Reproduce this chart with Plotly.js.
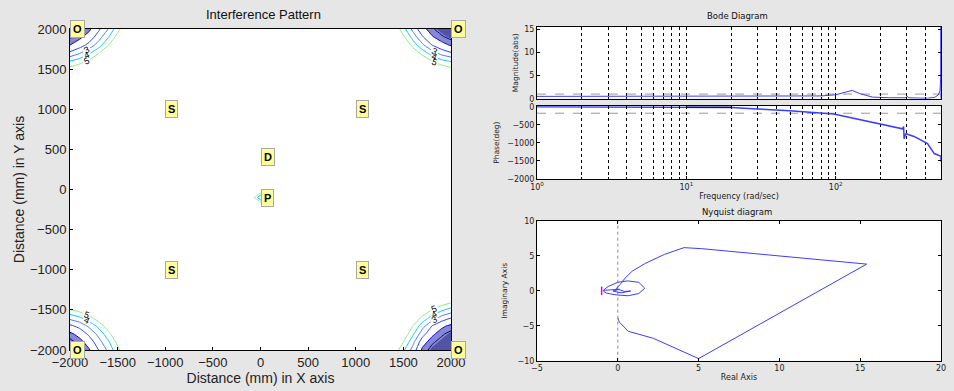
<!DOCTYPE html>
<html>
<head>
<meta charset="utf-8">
<script src="https://cdn.plot.ly/plotly-3.0.1.min.js"></script>
<style>html,body{margin:0;padding:0;background:#e6e6e6;}#chart{width:954px;height:391px;}</style>
</head>
<body>
<div id="chart"></div>
<script>
// ---------- Interference pattern (left) ----------
// grid offsets (mm) from each corner
const cornerOffsets = [0, 100, 200, 300, 400, 500, 600];
// z tables: rows = offset away from corner vertically, cols = offset away horizontally
const cornerTL = [
  [0.0,0.3,0.8,1.8,3.0,4.6,6.2],
  [0.4,0.8,1.4,2.5,3.9,5.4,7.0],
  [1.0,1.5,2.3,3.5,4.9,6.5,8.0],
  [2.2,2.9,3.8,4.9,6.3,7.8,9.2],
  [4.0,4.5,5.2,6.3,7.7,9.0,10],
  [5.4,5.9,6.6,7.7,9.0,10,10],
  [7.0,7.4,8.1,9.2,10,10,10]];
const cornerTR = [
  [0.0,0.2,0.6,1.3,2.7,4.4,6.0],
  [0.3,0.6,1.1,2.1,3.6,5.2,6.8],
  [0.9,1.3,2.0,3.2,4.6,6.2,7.8],
  [2.1,2.6,3.5,4.6,6.0,7.5,9.0],
  [3.9,4.3,5.0,6.1,7.5,8.8,10],
  [5.3,5.7,6.4,7.5,8.8,10,10],
  [6.9,7.3,8.0,9.0,10,10,10]];
const cornerBL = [
  [0.0,0.3,0.9,2.0,3.2,4.7,6.2],
  [0.3,0.7,1.4,2.6,3.8,5.3,6.9],
  [0.8,1.3,2.2,3.3,4.6,6.1,7.6],
  [1.8,2.3,3.2,4.3,5.6,7.1,8.6],
  [3.3,3.8,4.6,5.6,6.9,8.3,9.6],
  [4.9,5.4,6.1,7.1,8.3,9.6,10],
  [6.6,7.0,7.7,8.6,9.7,10,10]];
const cornerBR = [
  [0.0,0.1,0.3,0.8,2.6,4.2,5.8],
  [0.1,0.3,0.6,1.4,3.3,5.0,6.6],
  [0.3,0.6,1.2,2.4,4.2,5.8,7.4],
  [0.8,1.2,2.0,3.4,5.0,6.6,8.2],
  [2.0,2.6,3.6,4.7,6.0,7.6,9.0],
  [3.6,4.2,5.0,6.0,7.2,8.6,10],
  [5.2,5.7,6.4,7.2,8.4,9.6,10]];
// dip around the probe point P
const probeX = [-200,-100,0,100,200];
const probeY = [-300,-200,-100,0,100];
const probeZ = [
  [10,10,10,10,10],
  [10,8,6.5,8,10],
  [10,6,3,6,10],
  [10,8,6.5,8,10],
  [10,10,10,10,10]];
const background = 10;
const contourLevels = [0.5, 1, 2, 3, 4, 5];
const contourColors = ['#00008c','#0000d0','#2040ff','#4a78ff','#00c8ff','#86ee86'];

const srcLabels = ['O','O','O','O','S','S','S','S','D','P'];
const srcX = [-2000, 2000, -2000, 2000, -1000, 1000, -1000, 1000, 0, 0];
const srcY = [2000, 2000, -2000, -2000, 1000, 1000, -1000, -1000, 400, -100];

// ---------- Bode diagram ----------
const bodeDecades = [1, 10, 100];
const bodeMinorW = [2,3,4,5,6,7,8,9,20,30,40,50,60,70,80,90,200,300,400];
const bodeDecadeText = ['10<sup>0</sup>', '10<sup>1</sup>', '10<sup>2</sup>'];
const magW = [1, 3, 10, 30, 60, 80, 100, 115, 129, 145, 176, 230, 273, 295, 300, 310, 350, 412, 460, 486, 499, 506, 507, 507];
const magV = [0.5,0.5,0.5,0.5,0.55,0.6,0.85,1.3,1.8,1.1,0.35,0.2,0.1,0.2,0.5,0.2,0.15,0.1,0.3,0.8,1.7,5,15.6,0];
const magRef = 1;
const phaseW = [1, 10, 20, 30, 49, 97, 163, 200, 280, 285, 287, 295, 335, 412, 457, 507, 507];
const phaseV = [0, 0, -20, -63, -110, -200, -403, -493, -611, -548, -885, -748, -822, -1022, -1296, -1370, -1526];
const phaseDarkW = [10, 20];
const phaseDarkV = [-12, -12];
const phaseRef = -180;

// ---------- Nyquist diagram ----------
const nyqRe = [0.0, 0.1, 0.65, 2.2, 5.0, 15.4, 5.2, 4.1, 2.9, 1.7, 0.9, 0.45, 0.15, -0.1, 0.4, 0.8, 0.2, -0.3, 0.1,
  -0.9, -0.6, 0.0, 0.6, 1.3, 1.67, 1.3, 0.64, -0.1, -0.7, -0.9];
const nyqIm = [-3.9, -4.5, -5.8, -6.8, -9.7, 3.8, 6.0, 6.15, 5.2, 3.9, 2.8, 1.8, 0.9, 0.3, -0.1, -0.05, -0.3, -0.05, 0.2,
  0.05, 0.6, 1.2, 1.4, 1.2, 0.35, -0.4, -0.72, -0.6, -0.35, -0.05];
const critRe = [-1];
const critIm = [0];
const nyqRef = 0;

// ---------- assemble contour grid ----------
const edgeLo = cornerOffsets.map(d => -2000 + d);
const edgeHi = cornerOffsets.map(d => 2000 - d).reverse();
const gridX = edgeLo.concat(probeX, edgeHi);
const gridY = edgeLo.concat(probeY, edgeHi);
const nX = gridX.length, nY = gridY.length, nC = cornerOffsets.length;
const gridZ = [];
for (let i = 0; i < nY; i++) { gridZ.push(new Array(nX).fill(background)); }
for (let r = 0; r < nC; r++) {
  for (let c = 0; c < nC; c++) {
    gridZ[r][c] = cornerBL[r][c];
    gridZ[r][nX - 1 - c] = cornerBR[r][c];
    gridZ[nY - 1 - r][c] = cornerTL[r][c];
    gridZ[nY - 1 - r][nX - 1 - c] = cornerTR[r][c];
  }
}
for (let r = 0; r < probeY.length; r++) {
  for (let c = 0; c < probeX.length; c++) {
    gridZ[nC + r][nC + c] = probeZ[r][c];
  }
}

const data = [];
// constraint contours shade the region that fails the constraint
data.push({type:'contour', x:gridX, y:gridY, z:gridZ, xaxis:'x', yaxis:'y', showscale:false, hoverinfo:'skip',
  contours:{type:'constraint', operation:'>', value:1}, fillcolor:'rgba(95,95,195,0.75)', line:{width:0}});
data.push({type:'contour', x:gridX, y:gridY, z:gridZ, xaxis:'x', yaxis:'y', showscale:false, hoverinfo:'skip',
  contours:{type:'constraint', operation:'>', value:0.4}, fillcolor:'rgba(40,40,130,0.55)', line:{width:0}});
contourLevels.forEach((lv, k) => {
  data.push({type:'contour', x:gridX, y:gridY, z:gridZ, xaxis:'x', yaxis:'y', showscale:false, hoverinfo:'skip',
    autocontour:false,
    contours:{start:lv, end:lv, size:1, coloring:'none', showlabels:true,
      labelfont:{size:9, color:'black', family:'Liberation Sans, Arial, sans-serif'}},
    line:{color:contourColors[k], width:1, smoothing:0}});
});

// Bode magnitude
data.push({type:'scatter', mode:'lines', x:magW, y:magV, xaxis:'x2', yaxis:'y2',
  line:{color:'#3c3cff', width:1}, hoverinfo:'skip'});
// Bode phase
data.push({type:'scatter', mode:'lines', x:phaseW, y:phaseV, xaxis:'x3', yaxis:'y3',
  line:{color:'#3c3cff', width:1.5}, hoverinfo:'skip'});
data.push({type:'scatter', mode:'lines', x:phaseDarkW, y:phaseDarkV, xaxis:'x3', yaxis:'y3',
  line:{color:'#000066', width:1.2}, hoverinfo:'skip'});
// Nyquist
data.push({type:'scatter', mode:'lines', x:nyqRe, y:nyqIm, xaxis:'x4', yaxis:'y4',
  line:{color:'#3c3cff', width:1}, hoverinfo:'skip'});
data.push({type:'scatter', mode:'markers', x:critRe, y:critIm, xaxis:'x4', yaxis:'y4',
  marker:{symbol:'line-ns-open', size:6, color:'#e000e0', line:{width:1.5, color:'#e000e0'}}, hoverinfo:'skip'});

const leftFont = 'Liberation Sans, Arial, sans-serif';
const rightFont = 'DejaVu Sans, Verdana, sans-serif';
const L = 954, H = 391;
const px = v => v / L;
const py = v => (H - v) / H;

const leftAxisCommon = {showgrid:false, zeroline:false, showline:true, mirror:true, linecolor:'#000', linewidth:1,
  ticks:'inside', ticklen:3, tickcolor:'#000', tickfont:{family:leftFont, size:13, color:'#222'}};
const rightAxisCommon = {zeroline:false, showline:true, mirror:'ticks', linecolor:'#000', linewidth:1,
  ticks:'inside', ticklen:3, tickcolor:'#000', tickfont:{family:rightFont, size:8, color:'#222'}};
const bodeMinor = {tickmode:'array', tickvals:bodeMinorW, ticks:'inside', ticklen:2, tickcolor:'#000',
  showgrid:true, gridcolor:'#000', griddash:'dot', gridwidth:1};

const ticksLeft = [-2000,-1500,-1000,-500,0,500,1000,1500,2000];

const annotations = srcLabels.map((t, i) => ({
  x: srcX[i], y: srcY[i], xref:'x', yref:'y', text:'<b>' + t + '</b>', showarrow:false,
  xanchor:'left', yanchor:'middle', bgcolor:'#ffff99', bordercolor:'#a8a8a8', borderwidth:1, borderpad:2,
  font:{family:leftFont, size:11, color:'#000'}
}));
annotations.push({text:'Interference Pattern', x:px(263), y:py(15), xref:'paper', yref:'paper', showarrow:false,
  xanchor:'center', yanchor:'middle', font:{family:leftFont, size:13, color:'#111'}});
annotations.push({text:'Bode Diagram', x:px(737), y:py(16), xref:'paper', yref:'paper', showarrow:false,
  xanchor:'center', yanchor:'middle', font:{family:rightFont, size:8.5, color:'#111'}});
annotations.push({text:'Nyquist diagram', x:px(737), y:py(212), xref:'paper', yref:'paper', showarrow:false,
  xanchor:'center', yanchor:'middle', font:{family:rightFont, size:8.5, color:'#111'}});

const layout = {
  width:L, height:H, margin:{l:0, r:0, t:0, b:0},
  paper_bgcolor:'#e6e6e6', plot_bgcolor:'#ffffff', showlegend:false,
  xaxis: Object.assign({}, leftAxisCommon, {domain:[px(70), px(451)], range:[-2000,2000], tickvals:ticksLeft, anchor:'y',
    title:{text:'Distance (mm) in X axis', font:{family:leftFont, size:14, color:'#222'}, standoff:3}}),
  yaxis: Object.assign({}, leftAxisCommon, {domain:[1 - 350/H, 1 - 29/H], range:[-2000,2000], tickvals:ticksLeft, anchor:'x',
    title:{text:'Distance (mm) in Y axis', font:{family:leftFont, size:14, color:'#222'}, standoff:1}}),
  xaxis2: Object.assign({}, rightAxisCommon, {domain:[px(537), px(941)], type:'log', range:[0, 2.705], anchor:'y2',
    tickvals:bodeDecades, showticklabels:false, showgrid:true, gridcolor:'#000', griddash:'dot', gridwidth:1, minor:bodeMinor}),
  yaxis2: Object.assign({}, rightAxisCommon, {domain:[1 - 98.7/H, 1 - 26.7/H], range:[0, 15.6], tickvals:[0,5,10,15], anchor:'x2',
    showgrid:false, title:{text:'Magnitude(abs)', font:{family:rightFont, size:7.5, color:'#222'}, standoff:4}}),
  xaxis3: Object.assign({}, rightAxisCommon, {domain:[px(537), px(941)], type:'log', range:[0, 2.705], anchor:'y3',
    tickvals:bodeDecades, ticktext:bodeDecadeText, showgrid:true, gridcolor:'#000', griddash:'dot', gridwidth:1, minor:bodeMinor,
    title:{text:'Frequency (rad/sec)', font:{family:rightFont, size:8, color:'#222'}, standoff:2}}),
  yaxis3: Object.assign({}, rightAxisCommon, {domain:[1 - 179/H, 1 - 106.3/H], range:[-2000, 12], tickvals:[0,-500,-1000,-1500,-2000], anchor:'x3',
    showgrid:false, title:{text:'Phase(deg)', font:{family:rightFont, size:7.5, color:'#222'}, standoff:6}}),
  xaxis4: Object.assign({}, rightAxisCommon, {domain:[px(537), px(941)], range:[-5, 20], tickvals:[-5,0,5,10,15,20], anchor:'y4',
    showgrid:false, title:{text:'Real Axis', font:{family:rightFont, size:8, color:'#222'}, standoff:2}}),
  yaxis4: Object.assign({}, rightAxisCommon, {domain:[1 - 360.7/H, 1 - 220.7/H], range:[-10, 10], tickvals:[-10,-5,0,5,10], anchor:'x4',
    showgrid:false, title:{text:'Imaginary Axis', font:{family:rightFont, size:7.5, color:'#222'}, standoff:8}}),
  shapes:[
    {type:'line', xref:'x2 domain', yref:'y2', x0:0, x1:1, y0:magRef, y1:magRef, line:{color:'#9a9a9a', width:1, dash:'dash'}, layer:'below'},
    {type:'line', xref:'x3 domain', yref:'y3', x0:0, x1:1, y0:phaseRef, y1:phaseRef, line:{color:'#9a9a9a', width:1, dash:'dash'}, layer:'below'},
    {type:'line', xref:'x4', yref:'y4 domain', x0:nyqRef, x1:nyqRef, y0:0, y1:1, line:{color:'#8a8a8a', width:1, dash:'dot'}, layer:'below'}
  ],
  annotations: annotations
};

Plotly.newPlot('chart', data, layout, {staticPlot:true, displayModeBar:false});
</script>
</body>
</html>
